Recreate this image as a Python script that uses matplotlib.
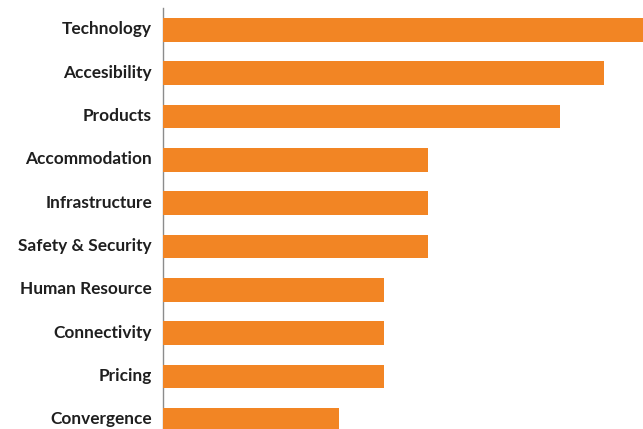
import matplotlib.pyplot as plt
import matplotlib.transforms as mtransforms

# данные: категории сверху вниз и их значения
categories = ["Technology", "Accesibility", "Products", "Accommodation",
              "Infrastructure", "Safety & Security", "Human Resource",
              "Connectivity", "Pricing", "Convergence"]
values = [11, 10, 9, 6, 6, 6, 5, 5, 5, 4]

BAR_COLOR = "#F28524"

fig = plt.figure(figsize=(6.43, 4.29), dpi=100)
ax = fig.add_axes([163 / 643, 0.0, 1 - 163 / 643, 1 - 8 / 429])

ypos = list(range(len(categories)))
ax.barh(ypos, values, height=0.545, color=BAR_COLOR, zorder=3)

# верхняя полоса уходит за край картинки
ax.set_xlim(0, 10.88)
ax.set_ylim(9.215, -0.508)

ax.set_yticks(ypos)
ax.set_yticklabels(categories, fontsize=12.4, fontweight="bold",
                   family=["Lato", "DejaVu Sans"], color="#1f1f1f")
ax.tick_params(axis="y", length=0, pad=8)
ax.set_xticks([])

# чуть приподнять подписи
shift = mtransforms.ScaledTranslation(0, 2 / 100, fig.dpi_scale_trans)
for lbl in ax.get_yticklabels():
    lbl.set_transform(lbl.get_transform() + shift)

for side in ["top", "right", "bottom"]:
    ax.spines[side].set_visible(False)
ax.spines["left"].set_color("#8c8c8c")
ax.spines["left"].set_linewidth(1.0)

fig.savefig("out.png", dpi=100)
